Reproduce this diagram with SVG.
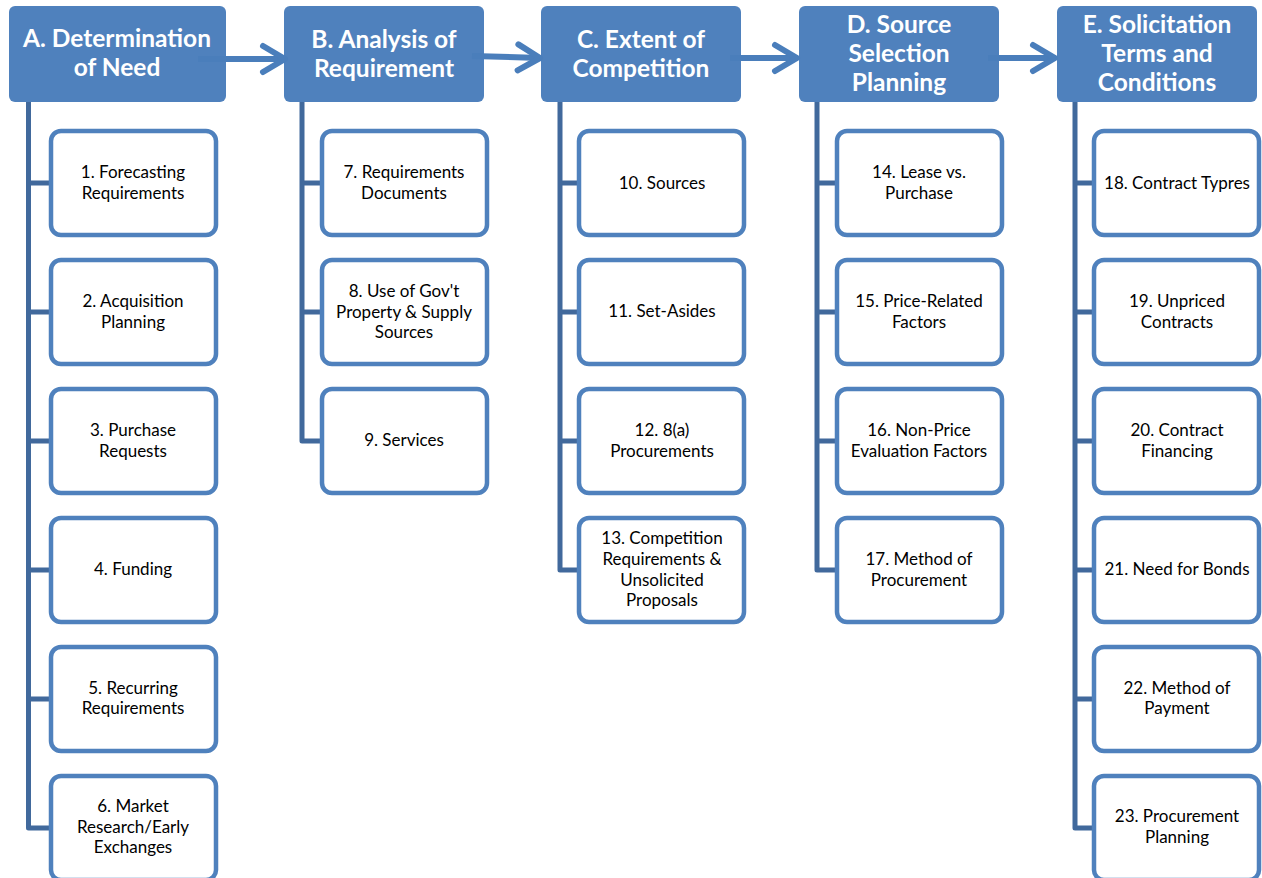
<svg xmlns="http://www.w3.org/2000/svg" width="1262" height="878" viewBox="0 0 1262 878">
<style>
.hdr{fill:#4F81BD;}
.ht{font-family:Lato,"Open Sans",sans-serif;font-weight:bold;font-size:24.5px;fill:#fff;text-anchor:middle;}
.box{fill:#fff;stroke:#4F81BD;stroke-width:4.5;}
.ct{font-family:Lato,"Open Sans",sans-serif;font-size:17px;fill:#000;text-anchor:middle;}
.tree{fill:none;stroke:#41699C;stroke-width:5;stroke-linejoin:round;}
.arr{fill:none;stroke:#4A7EBB;stroke-width:6;marker-end:url(#chev);}
</style>
<defs>
<marker id="chev" markerUnits="userSpaceOnUse" markerWidth="40" markerHeight="40" viewBox="-30 -20 40 40" refX="0" refY="0" orient="auto" overflow="visible">
<path d="M-22,-13 L0,0 L-22,13" fill="none" stroke="#4A7EBB" stroke-width="6" stroke-linecap="round" stroke-linejoin="round"/>
</marker>
</defs>
<rect width="1262" height="878" fill="#fff"/>
<g id="connectors">
<path class="tree" d="M28.5,102 V828 H51 M28.5,183 H51 M28.5,312 H51 M28.5,441 H51 M28.5,570 H51 M28.5,699 H51"/>
<path class="tree" d="M302,102 V441 H321 M302,183 H321 M302,312 H321"/>
<path class="tree" d="M560,102 V570 H579 M560,183 H579 M560,312 H579 M560,441 H579"/>
<path class="tree" d="M817,102 V570 H836 M817,183 H836 M817,312 H836 M817,441 H836"/>
<path class="tree" d="M1075,102 V828 H1094 M1075,183 H1094 M1075,312 H1094 M1075,441 H1094 M1075,570 H1094 M1075,699 H1094"/>
</g>
<g id="hA"><rect class="hdr" x="9" y="6" width="217" height="96" rx="6"/><text class="ht" x="117" y="47">A. Determination</text><text class="ht" x="117" y="76">of Need</text></g>
<g id="hB"><rect class="hdr" x="284" y="6" width="200" height="96" rx="6"/><text class="ht" x="384" y="48">B. Analysis of</text><text class="ht" x="384" y="77">Requirement</text></g>
<g id="hC"><rect class="hdr" x="541" y="6" width="200" height="96" rx="6"/><text class="ht" x="641" y="48">C. Extent of</text><text class="ht" x="641" y="77">Competition</text></g>
<g id="hD"><rect class="hdr" x="799" y="6" width="200" height="96" rx="6"/><text class="ht" x="899" y="33">D. Source</text><text class="ht" x="899" y="62">Selection</text><text class="ht" x="899" y="91">Planning</text></g>
<g id="hE"><rect class="hdr" x="1057" y="6" width="200" height="96" rx="6"/><text class="ht" x="1157" y="33">E. Solicitation</text><text class="ht" x="1157" y="62">Terms and</text><text class="ht" x="1157" y="91">Conditions</text></g>
<g id="arrows">
<path class="arr" d="M198,59 H285"/>
<path class="arr" d="M472,56 L540,58"/>
<path class="arr" d="M730,58 H797"/>
<path class="arr" d="M988,58 H1055"/>
</g>

<g id="n1"><rect class="box" x="51" y="131" width="165" height="104" rx="10"/><text class="ct" x="133" y="178">1. Forecasting</text><text class="ct" x="133" y="199">Requirements</text></g>
<g id="n2"><rect class="box" x="51" y="260" width="165" height="104" rx="10"/><text class="ct" x="133" y="307">2. Acquisition</text><text class="ct" x="133" y="328">Planning</text></g>
<g id="n3"><rect class="box" x="51" y="389" width="165" height="104" rx="10"/><text class="ct" x="133" y="436">3. Purchase</text><text class="ct" x="133" y="457">Requests</text></g>
<g id="n4"><rect class="box" x="51" y="518" width="165" height="104" rx="10"/><text class="ct" x="133" y="575">4. Funding</text></g>
<g id="n5"><rect class="box" x="51" y="647" width="165" height="104" rx="10"/><text class="ct" x="133" y="694">5. Recurring</text><text class="ct" x="133" y="714">Requirements</text></g>
<g id="n6"><rect class="box" x="51" y="776" width="165" height="104" rx="10"/><text class="ct" x="133" y="812">6. Market</text><text class="ct" x="133" y="833">Research/Early</text><text class="ct" x="133" y="853">Exchanges</text></g>

<g id="n7"><rect class="box" x="322" y="131" width="165" height="104" rx="10"/><text class="ct" x="404" y="178">7. Requirements</text><text class="ct" x="404" y="199">Documents</text></g>
<g id="n8"><rect class="box" x="322" y="260" width="165" height="104" rx="10"/><text class="ct" x="404" y="297">8. Use of Gov't</text><text class="ct" x="404" y="318">Property &amp; Supply</text><text class="ct" x="404" y="338">Sources</text></g>
<g id="n9"><rect class="box" x="322" y="389" width="165" height="104" rx="10"/><text class="ct" x="404" y="446">9. Services</text></g>

<g id="n10"><rect class="box" x="579" y="131" width="165" height="104" rx="10"/><text class="ct" x="662" y="189">10. Sources</text></g>
<g id="n11"><rect class="box" x="579" y="260" width="165" height="104" rx="10"/><text class="ct" x="662" y="317">11. Set-Asides</text></g>
<g id="n12"><rect class="box" x="579" y="389" width="165" height="104" rx="10"/><text class="ct" x="662" y="436">12. 8(a)</text><text class="ct" x="662" y="457">Procurements</text></g>
<g id="n13"><rect class="box" x="579" y="518" width="165" height="104" rx="10"/><text class="ct" x="662" y="544">13. Competition</text><text class="ct" x="662" y="565">Requirements &amp;</text><text class="ct" x="662" y="586">Unsolicited</text><text class="ct" x="662" y="606">Proposals</text></g>

<g id="n14"><rect class="box" x="837" y="131" width="165" height="104" rx="10"/><text class="ct" x="919" y="178">14. Lease vs.</text><text class="ct" x="919" y="199">Purchase</text></g>
<g id="n15"><rect class="box" x="837" y="260" width="165" height="104" rx="10"/><text class="ct" x="919" y="307">15. Price-Related</text><text class="ct" x="919" y="328">Factors</text></g>
<g id="n16"><rect class="box" x="837" y="389" width="165" height="104" rx="10"/><text class="ct" x="919" y="436">16. Non-Price</text><text class="ct" x="919" y="457">Evaluation Factors</text></g>
<g id="n17"><rect class="box" x="837" y="518" width="165" height="104" rx="10"/><text class="ct" x="919" y="565">17. Method of</text><text class="ct" x="919" y="586">Procurement</text></g>

<g id="n18"><rect class="box" x="1094" y="131" width="165" height="104" rx="10"/><text class="ct" x="1177" y="189">18. Contract Typres</text></g>
<g id="n19"><rect class="box" x="1094" y="260" width="165" height="104" rx="10"/><text class="ct" x="1177" y="307">19. Unpriced</text><text class="ct" x="1177" y="328">Contracts</text></g>
<g id="n20"><rect class="box" x="1094" y="389" width="165" height="104" rx="10"/><text class="ct" x="1177" y="436">20. Contract</text><text class="ct" x="1177" y="457">Financing</text></g>
<g id="n21"><rect class="box" x="1094" y="518" width="165" height="104" rx="10"/><text class="ct" x="1177" y="575">21. Need for Bonds</text></g>
<g id="n22"><rect class="box" x="1094" y="647" width="165" height="104" rx="10"/><text class="ct" x="1177" y="694">22. Method of</text><text class="ct" x="1177" y="714">Payment</text></g>
<g id="n23"><rect class="box" x="1094" y="776" width="165" height="104" rx="10"/><text class="ct" x="1177" y="822">23. Procurement</text><text class="ct" x="1177" y="843">Planning</text></g>
</svg>
